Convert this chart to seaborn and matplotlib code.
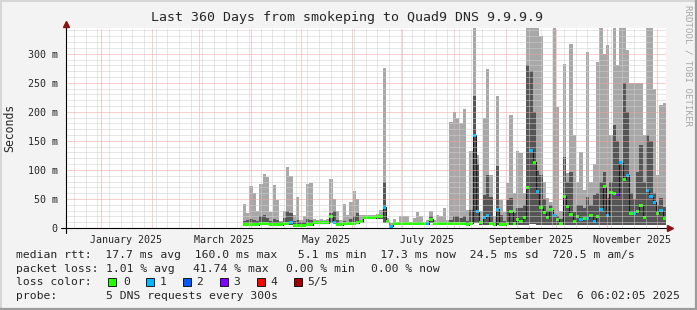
import numpy as np
import pandas as pd
import matplotlib
matplotlib.use("Agg")
import matplotlib.pyplot as plt
import seaborn as sns
from matplotlib.patches import Rectangle
from matplotlib.lines import Line2D

sns.set_style("white")
plt.rcParams['font.family'] = ['DejaVu Sans Mono', 'DejaVu Sans']

# ---------------- data ----------------
START = pd.Timestamp("2024-12-11 06:02:05")
END = pd.Timestamp("2025-12-06 06:02:05")
FIRST_DAY = 106          # first day with data (days after START)
BIN_DAYS = 2             # width of one consolidated step

# light smoke top (max ping, ms)
smoke_max = [42, 25, 72, 60, 30, 75, 93, 88, 28, 74, 48, 12, 30, 105, 90, 22, 54, 14, 20, 75,
             78, 16, 14, 16, 14, 16, 84, 50, 30, 14, 41, 22, 45, 63, 50, 22, 22, 22, 23, 22,
             24, 31, 276, 17, 8, 15, 11, 20, 21, 20, 11, 18, 28, 20, 11, 14, 30, 14, 22, 20,
             35, 14, 183, 200, 190, 180, 205, 31, 133, 344, 125, 30, 190, 274, 91, 20, 228, 48, 28, 77,
             195, 60, 132, 129, 60, 344, 344, 344, 344, 331, 80, 51, 45, 344, 209, 30, 282, 95, 316, 160,
             80, 131, 65, 303, 80, 110, 285, 344, 300, 315, 160, 344, 280, 344, 344, 307, 249, 249, 249, 249,
             160, 344, 344, 240, 91, 212, 215]
# dark smoke top (upper quartile, ms)
smoke_upper = [12, 13, 15, 14, 12, 20, 22, 18, 12, 15, 14, 10, 18, 30, 25, 12, 14, 10, 10, 15,
               14, 10, 10, 11, 10, 11, 25, 30, 14, 9, 12, 10, 15, 20, 25, 14, 20, 20, 20, 20,
               21, 22, 80, 12, 5, 10, 9, 10, 10, 10, 9, 10, 11, 10, 9, 9, 20, 10, 10, 10,
               11, 10, 14, 20, 20, 18, 20, 12, 31, 228, 110, 12, 57, 91, 54, 10, 106, 22, 12, 48,
               51, 25, 34, 35, 40, 281, 270, 200, 100, 91, 50, 30, 40, 23, 20, 15, 123, 80, 97, 28,
               40, 40, 35, 54, 40, 57, 60, 80, 97, 51, 80, 178, 150, 114, 250, 200, 60, 50, 97, 143,
               80, 160, 150, 60, 40, 51, 37]
# median rtt (ms)
median_rtt = [6, 6, 6, 6, 6, 7, 7, 7, 6, 6, 6, 6, 7, 8, 10, 5, 5, 5, 5, 6,
              6, 9, 9, 9, 9, 9, 20, 10, 6, 6, 7, 7, 8, 8, 9, 11, 18, 18, 18, 18,
              19, 19, 36, 11, 3, 8, 8, 8, 8, 8, 8, 8, 8, 8, 8, 7, 15, 8, 8, 8,
              8, 8, 8, 8, 8, 8, 8, 6, 8, 160, 28, 9, 18, 22, 8, 6, 32, 6, 6, 8,
              28, 8, 15, 11, 18, 70, 134, 113, 62, 35, 26, 18, 31, 22, 15, 8, 55, 37, 24, 11,
              20, 14, 17, 17, 21, 11, 20, 32, 71, 22, 61, 60, 57, 112, 84, 91, 25, 25, 28, 38,
              18, 64, 54, 44, 25, 30, 17]
# minimum ping (ms)
smoke_min = [5, 5, 5, 5, 5, 5, 5, 5, 5, 5, 5, 5, 5, 5, 6, 4, 4, 4, 4, 5,
             5, 7, 7, 7, 7, 7, 8, 7, 5, 5, 5, 5, 6, 6, 7, 8, 15, 15, 15, 15,
             16, 16, 9, 8, 2, 6, 6, 6, 6, 6, 6, 6, 6, 6, 6, 5, 8, 6, 6, 6,
             6, 6, 6, 6, 6, 6, 6, 4, 6, 9, 8, 6, 6, 6, 5, 4, 6, 4, 4, 5,
             6, 5, 6, 6, 6, 6, 7, 7, 6, 6, 6, 5, 5, 6, 6, 5, 6, 6, 6, 5,
             5, 5, 5, 5, 6, 5, 5, 6, 6, 5, 6, 6, 6, 6, 6, 6, 5, 5, 6, 6,
             5, 6, 6, 6, 5, 5, 5]
# packet-loss class of each median (0..5)
loss_class = [0, 0, 0, 0, 0, 0, 0, 0, 0, 0, 0, 0, 0, 0, 1, 0, 0, 0, 0, 0,
              0, 0, 0, 0, 0, 0, 0, 1, 0, 0, 0, 0, 0, 0, 0, 0, 0, 0, 0, 0,
              0, 0, 1, 0, 1, 0, 0, 0, 0, 0, 0, 0, 0, 0, 0, 1, 0, 0, 0, 0,
              0, 0, 0, 0, 0, 0, 0, 0, 0, 1, 1, 0, 1, 1, 0, 0, 1, 0, 0, 0,
              0, 0, 0, 0, 0, 0, 1, 0, 1, 0, 0, 0, 0, 1, 0, 0, 0, 0, 0, 0,
              0, 1, 0, 1, 0, 1, 0, 1, 0, 1, 0, 0, 3, 1, 0, 1, 0, 1, 0, 0,
              0, 1, 1, 1, 0, 1, 0]

loss_colors = ['#26ff00', '#00b8ff', '#0059ff', '#7e00ff', '#ff0000', '#a10000']
loss_labels = ['0', '1', '2', '3', '4', '5/5']
y_ticks = [0, 50, 100, 150, 200, 250, 300]
y_tick_labels = ['0', '50 m', '100 m', '150 m', '200 m', '250 m', '300 m']
month_labels = ['January 2025', 'March 2025', 'May 2025', 'July 2025',
                'September 2025', 'November 2025']

# ---------------- figure ----------------
W, H = 697, 310
BG = '#f3f3f3'
fig = plt.figure(figsize=(W / 100, H / 100), dpi=100, facecolor=BG)
L, R, T, B = 66, 666, 28, 228
ax = fig.add_axes([L / W, 1 - B / H, (R - L) / W, (B - T) / H])
ax.set_facecolor('white')

n = len(median_rtt)
x = FIRST_DAY + BIN_DAYS * np.arange(n)
df = pd.DataFrame({'x': x, 'mx': smoke_max, 'up': smoke_upper, 'med': median_rtt,
                   'mn': smoke_min, 'loss': loss_class})

# smoke
ax.bar(df.x, df.mx - df.mn, bottom=df.mn, width=BIN_DAYS, align='edge',
       color='#a8a8a8', linewidth=0, zorder=1)
ax.bar(df.x, df.up - df.mn, bottom=df.mn, width=BIN_DAYS, align='edge',
       color='#555555', linewidth=0, zorder=1.1)
# median line (step)
xs = np.append(df.x.values, df.x.values[-1] + BIN_DAYS)
ys = np.append(df.med.values, df.med.values[-1])
sns.lineplot(x=xs, y=ys, ax=ax, drawstyle='steps-post', color='#1a1a1a',
             linewidth=0.8, zorder=1.2, estimator=None, sort=False)
# coloured median band
band = 2.6
ax.bar(df.x, 2 * band, bottom=df.med - band, width=BIN_DAYS, align='edge',
       color=[loss_colors[i] for i in df.loss], linewidth=0, zorder=1.3)

total_days = (END - START) / pd.Timedelta(days=1)
ax.set_xlim(0, total_days)
ax.set_ylim(0, 200 / 0.581)

# grid
months = pd.date_range('2025-01-01', '2025-12-01', freq='MS')
month_pos = [(m - START) / pd.Timedelta(days=1) for m in months]
weeks = pd.date_range('2024-12-16', END, freq='7D')
week_pos = [(w - START) / pd.Timedelta(days=1) for w in weeks]
ax.set_xticks(month_pos)
ax.set_xticks(week_pos, minor=True)
ax.set_xticklabels([])
ax.set_yticks(y_ticks)
ax.set_yticklabels(y_tick_labels)
ax.set_yticks(np.arange(0, 345, 10), minor=True)
ax.set_axisbelow(False)
ax.grid(True, which='minor', color='#cfcfcf', linestyle=(0, (1, 1)), linewidth=0.72)
ax.grid(True, which='major', color='#f2a0a0', linestyle=(0, (1, 1)), linewidth=0.72)
ax.tick_params(axis='both', which='major', length=3, width=0.72, color='black',
               direction='out', labelsize=7.2, pad=3)
ax.tick_params(axis='both', which='minor', length=0)
for s in ['top', 'right', 'left', 'bottom']:
    ax.spines[s].set_visible(False)

# axis lines with arrows
fig.add_artist(Line2D([L / W, L / W], [1 - 233 / H, 1 - 24 / H], color='black', lw=0.8))
fig.add_artist(Line2D([61 / W, 670 / W], [1 - B / H, 1 - B / H], color='black', lw=0.8))
fig.add_artist(Line2D([L / W], [1 - 23.5 / H], marker='^', color='#8b1010', markersize=4.5, lw=0))
fig.add_artist(Line2D([670 / W], [1 - B / H], marker='>', color='#8b1010', markersize=4.5, lw=0))

# month labels at mid-month
lab_months = pd.to_datetime(['2025-01-16', '2025-03-16', '2025-05-16', '2025-07-16',
                             '2025-09-16', '2025-11-16'])
for lab, m in zip(month_labels, lab_months):
    ax.text((m - START) / pd.Timedelta(days=1), -0.035, lab, transform=ax.get_xaxis_transform(),
            ha='center', va='top', fontsize=7.2)

def px(xp, yp):
    return xp / W, 1 - yp / H

fig.text(*px(347, 18), 'Last 360 Days from smokeping to Quad9 DNS 9.9.9.9',
         ha='center', va='center', fontsize=9.5)
fig.text(*px(10, 128), 'Seconds', rotation=90, ha='center', va='center', fontsize=8.3)
fig.text(*px(688, 5), 'RRDTOOL / TOBI OETIKER', rotation=270, ha='center', va='top',
         fontsize=6.6, color='#a8a8a8')

FS = 8.2
rows = [
    (255, [('median rtt:  17.7 ms avg  160.0 ms max   5.1 ms min  17.3 ms now  24.5 ms sd  720.5 m am/s', 16)]),
    (268.5, [('packet loss:', 16), ('1.01 % avg', 106), ('41.74 % max', 193),
             ('0.00 % min', 286), ('0.00 % now', 371)]),
    (282, [('loss color:', 16)]),
    (296, [('probe:', 16), ('5 DNS requests every 300s', 106)]),
]
for yp, items in rows:
    for txt, xp in items:
        fig.text(*px(xp, yp), txt, ha='left', va='center', fontsize=FS)
fig.text(*px(680, 296), 'Sat Dec  6 06:02:05 2025', ha='right', va='center', fontsize=FS)

box_x = [108, 145.5, 182.5, 219.5, 256.5, 293.5]
lab_x = [123, 159.5, 196.5, 233.5, 270.5, 307.5]
for c, lab, bx, lx in zip(loss_colors, loss_labels, box_x, lab_x):
    fig.add_artist(Rectangle((bx / W, 1 - 286 / H), 8 / W, 8 / H, facecolor=c,
                             edgecolor='black', linewidth=0.6, transform=fig.transFigure))
    fig.text(*px(lx, 282), lab, ha='left', va='center', fontsize=FS)

# 3-D frame
fig.add_artist(Line2D([0, 1], [1 - 0.5 / H, 1 - 0.5 / H], color='#d6d6d6', lw=1.4))
fig.add_artist(Line2D([0.5 / W, 0.5 / W], [0, 1], color='#d6d6d6', lw=1.4))
fig.add_artist(Line2D([0, 1], [1.0 / H, 1.0 / H], color='#9c9c9c', lw=1.6))
fig.add_artist(Line2D([1 - 1.0 / W, 1 - 1.0 / W], [0, 1], color='#9c9c9c', lw=1.6))

fig.savefig('out.png', dpi=100, facecolor=BG)
